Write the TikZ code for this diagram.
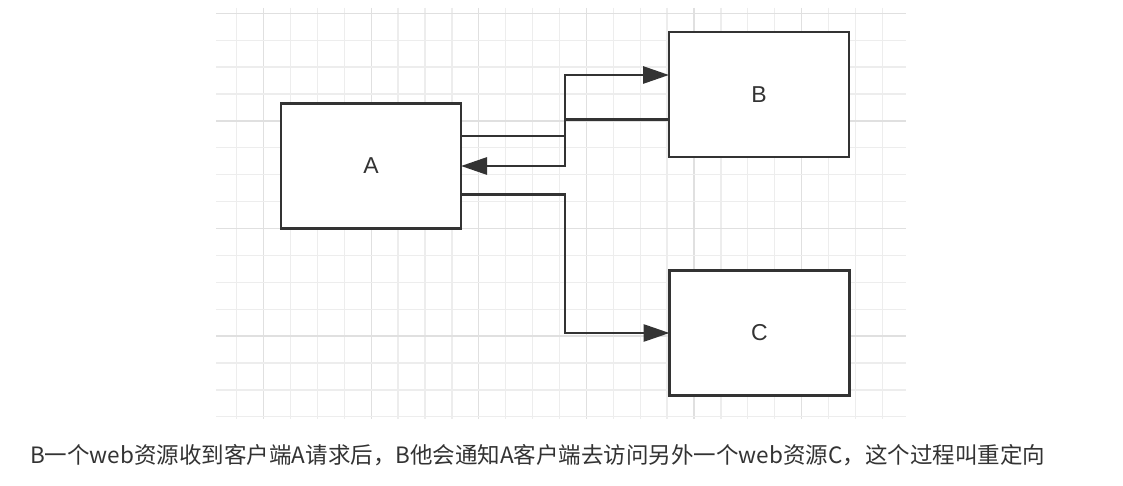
\documentclass[tikz,border=0pt]{standalone}
\usepackage{fontspec}
\setmainfont{Liberation Sans}
\newfontfamily\cjk{Noto Sans CJK SC}
\usetikzlibrary{arrows.meta}
\definecolor{ink}{HTML}{333333}
\definecolor{gridminor}{HTML}{EDEDED}
\definecolor{gridmajor}{HTML}{E0E0E0}
\tikzset{
  box/.style={draw=ink, line width=2.9pt, fill=white, minimum width=180pt, minimum height=125pt, inner sep=0pt, outer sep=0pt, font=\fontsize{23pt}{27pt}\selectfont, text=ink},
  arr/.style={draw=ink, line width=2.9pt, -{Triangle[length=26pt,width=17pt]}},
  gline/.style={line width=1.3pt},
}
\begin{document}
\begin{tikzpicture}[x=1pt,y=-1pt]
\useasboundingbox (0,0) rectangle (1123,486);
\fill[white] (0,0) rectangle (1123,486);
% grid
\foreach \xx/\cc in {236.7/gridminor,263.6/gridmajor,290.5/gridminor,317.4/gridminor,344.3/gridminor,371.2/gridmajor,398.1/gridminor,425.0/gridminor,451.9/gridminor,478.8/gridmajor,505.7/gridminor,532.6/gridminor,559.5/gridminor,586.4/gridmajor,613.3/gridminor,640.2/gridminor,667.1/gridminor,694.0/gridmajor,720.9/gridminor,747.8/gridminor,774.7/gridminor,801.6/gridmajor,828.5/gridminor,855.4/gridminor,882.3/gridminor}
  \draw[gline, draw=\cc] (\xx,8) -- (\xx,419);
\foreach \yy/\cc in {13.3/gridmajor,40.2/gridminor,67.1/gridminor,94.0/gridminor,120.9/gridmajor,147.8/gridminor,174.7/gridminor,201.6/gridminor,228.5/gridmajor,255.4/gridminor,282.3/gridminor,309.2/gridminor,336.1/gridmajor,363.0/gridminor,389.9/gridminor,416.8/gridminor}
  \draw[gline, draw=\cc] (216,\yy) -- (906,\yy);
% boxes
\node[box] (A) at (371,166) {A};
\node[box] (B) at (759,94.5) {B};
\node[box] (C) at (759.5,333) {C};
% connectors
\draw[arr] ([yshift=30pt]A.east) -- ++(104,0) |- ([yshift=19.5pt]B.west);
\draw[arr] ([yshift=-24.8pt]B.west) -- ++(-104,0) |- (A.east);
\draw[arr] ([yshift=-28.3pt]A.east) -- ++(104,0) |- (C.west);
% caption
\node[anchor=base west, inner sep=0pt, text=ink, font=\cjk\fontsize{22.5pt}{26pt}\selectfont] (cap) at (30,463) {B一个web资源收到客户端A请求后，B他会通知A客户端去访问另外一个web资源C，这个过程叫重定向};
\end{tikzpicture}
\end{document}
